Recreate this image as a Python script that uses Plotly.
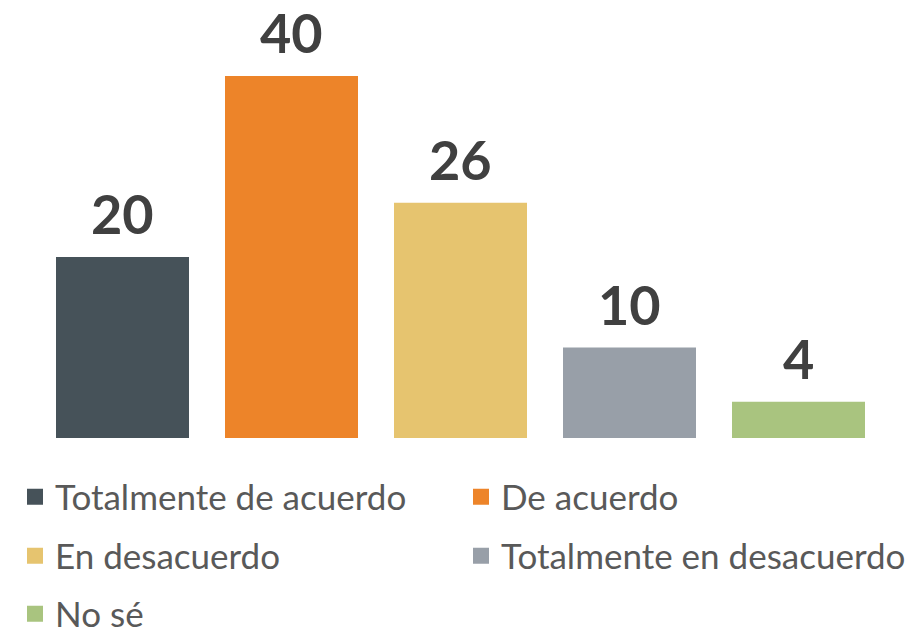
import plotly.graph_objects as go

categories = ["Totalmente de acuerdo", "De acuerdo", "En desacuerdo", "Totalmente en desacuerdo", "No sé"]
values = [20, 40, 26, 10, 4]
colors = ["#465259", "#ED8429", "#E6C46F", "#989FA8", "#A9C47F"]

fig = go.Figure()
fig.add_trace(go.Bar(x=categories, y=values, marker=dict(color=colors, line=dict(width=0)),
                     showlegend=False, hoverinfo="x+y"))

for i, (lab, val) in enumerate(zip(categories, values)):
    fig.add_annotation(x=lab, y=val, text="<b>%d</b>" % val, showarrow=False,
                       yanchor="bottom", yshift=9,
                       font=dict(family="Lato", size=54, color="#404040"))

OFF = 8  # page body margin
W, H = 923 - OFF, 629 - OFF
ml, mt = 38 - OFF, 10 - OFF
mr = 923 - 883
mb = 629 - 438
pw, ph = W - ml - mr, H - mt - mb
# legend entry positions (symbol centre x, row centre y) in page pixels
leg_pos = [(35, 497), (481, 497), (35, 556), (481, 556), (35, 614)]
for i, (px, py) in enumerate(leg_pos):
    lname = "legend" if i == 0 else "legend%d" % (i + 1)
    fig.add_trace(go.Scatter(x=[None], y=[None], mode="markers", name=categories[i],
                             marker=dict(symbol="square", size=16, color=colors[i]),
                             legend=lname, showlegend=True))
    fig.update_layout(**{lname: dict(orientation="h", x=(px - OFF - 20 - ml) / pw, xanchor="left",
                                     y=(H - mb - (py - OFF)) / ph, yanchor="middle",
                                     font=dict(family="Lato", size=35, color="#595959"),
                                     bgcolor="rgba(0,0,0,0)", itemsizing="trace")})

fig.update_layout(
    width=W, height=H,
    margin=dict(l=ml, r=mr, t=mt, b=mb, autoexpand=False),
    paper_bgcolor="white", plot_bgcolor="white",
    bargap=0.213,
    xaxis=dict(showticklabels=False, showgrid=False, zeroline=False, showline=False, ticks=""),
    yaxis=dict(range=[0, ph / 9.05], showticklabels=False, showgrid=False, zeroline=False, showline=False),
)
fig.write_html("out.html")
